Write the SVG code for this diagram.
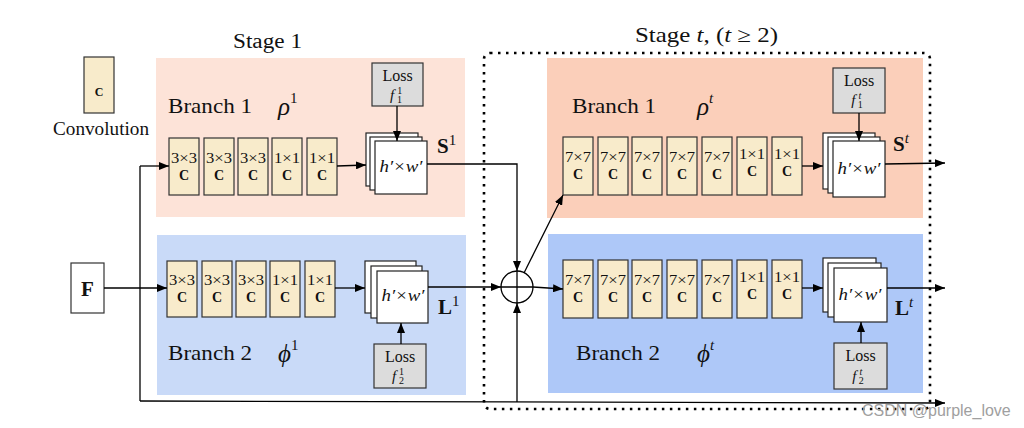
<svg xmlns="http://www.w3.org/2000/svg" width="1024" height="428" viewBox="0 0 1024 428">
<defs>
<marker id="ah" viewBox="0 0 10 8" refX="10" refY="4" markerWidth="10" markerHeight="8" markerUnits="userSpaceOnUse" orient="auto">
<path d="M0,0 L10,4 L0,8 z" fill="#000"/>
</marker>
<style>
text{font-family:"Liberation Serif","DejaVu Serif",serif;fill:#111}
.conv rect{fill:#F8EBCB;stroke:#333;stroke-width:1.2}
.conv .k{font-size:14px;text-anchor:middle}
.conv .c{font-size:14px;font-weight:bold;text-anchor:middle}
.page{fill:#fff;stroke:#222;stroke-width:1.2}
.loss rect{fill:#DCDCDC;stroke:#333;stroke-width:1.2}
.loss text{text-anchor:middle}
.loss .lt{font-size:16px}
.loss .ft{font-size:15px}
.loss .s{font-size:10px}
.hw{font-size:16px;font-style:italic;text-anchor:middle}
.br{font-size:22px}
.gr{font-size:25px;font-style:italic}
.sup{font-size:15px}
.bold{font-size:21px;font-weight:bold}
.ln{fill:none;stroke:#000;stroke-width:1.3}
.ar{fill:none;stroke:#000;stroke-width:1.3;marker-end:url(#ah)}
</style>
</defs>
<rect width="1024" height="428" fill="#fff"/>

<!-- backgrounds -->
<g id="stage1-branch1-bg"><rect x="156" y="58" width="309" height="159" fill="#FDE3D8"/></g>
<g id="stage1-branch2-bg"><rect x="157" y="235" width="309" height="160" fill="#C9DAF8"/></g>
<g id="staget-branch1-bg"><rect x="547" y="58" width="376" height="160" fill="#FBCFBA"/></g>
<g id="staget-branch2-bg"><rect x="548" y="234" width="375" height="159" fill="#AEC8F8"/></g>

<g id="stage-t-frame"><rect x="484" y="53" width="446" height="356" rx="6" fill="none" stroke="#000" stroke-width="2.6" stroke-dasharray="2.5 5.5"/></g>

<!-- titles -->
<text x="233" y="48" font-size="20" textLength="69" lengthAdjust="spacingAndGlyphs">Stage 1</text>
<text x="635" y="42" font-size="21" textLength="143" lengthAdjust="spacingAndGlyphs">Stage <tspan font-style="italic">t</tspan>, (<tspan font-style="italic">t</tspan> ≥ 2)</text>

<!-- legend -->
<g id="legend" class="conv">
<rect x="84" y="57" width="30" height="56"/>
<text class="c" x="99" y="96" style="font-size:12px">C</text>
<text x="53" y="135" font-size="18" textLength="96" lengthAdjust="spacingAndGlyphs">Convolution</text>
</g>

<g id="F"><rect x="71" y="263" width="33" height="50" fill="#fff" stroke="#333" stroke-width="1.2"/><text x="87.5" y="296" font-size="21" font-weight="bold" text-anchor="middle">F</text></g>

<!-- Stage 1 branch 1 -->
<text class="br" x="168" y="113" textLength="84" lengthAdjust="spacingAndGlyphs">Branch 1</text>
<text x="278" y="115"><tspan class="gr">ρ</tspan><tspan class="sup" dy="-12">1</tspan></text>
<g id="s1b1c1" class="conv"><rect x="169" y="138" width="30" height="57"/><text class="k" x="184" y="163" textLength="26" lengthAdjust="spacingAndGlyphs">3×3</text><text class="c" x="184" y="180">C</text></g>
<g id="s1b1c2" class="conv"><rect x="204" y="138" width="30" height="57"/><text class="k" x="219" y="163" textLength="26" lengthAdjust="spacingAndGlyphs">3×3</text><text class="c" x="219" y="180">C</text></g>
<g id="s1b1c3" class="conv"><rect x="238" y="138" width="30" height="57"/><text class="k" x="253" y="163" textLength="26" lengthAdjust="spacingAndGlyphs">3×3</text><text class="c" x="253" y="180">C</text></g>
<g id="s1b1c4" class="conv"><rect x="272" y="138" width="30" height="57"/><text class="k" x="287" y="163" textLength="26" lengthAdjust="spacingAndGlyphs">1×1</text><text class="c" x="287" y="180">C</text></g>
<g id="s1b1c5" class="conv"><rect x="307" y="138" width="30" height="57"/><text class="k" x="322" y="163" textLength="26" lengthAdjust="spacingAndGlyphs">1×1</text><text class="c" x="322" y="180">C</text></g>
<g id="s1b1map"><rect class="page" x="366" y="133" width="52" height="53"/><rect class="page" x="370" y="137" width="52" height="53"/><rect class="page" x="375" y="141" width="52" height="53"/><text class="hw" x="401" y="172" textLength="43" lengthAdjust="spacingAndGlyphs">h′×w′</text></g>
<g id="s1loss1" class="loss"><rect x="372" y="63" width="51" height="43"/><text class="lt" x="397.5" y="81">Loss</text><text class="ft" x="396" y="100"><tspan font-style="italic">f</tspan><tspan class="s" dx="3" dy="-6">1</tspan><tspan class="s" dx="-5" dy="9">1</tspan></text></g>
<text x="437" y="153"><tspan class="bold">S</tspan><tspan class="sup" dy="-8">1</tspan></text>

<!-- Stage 1 branch 2 -->
<text class="br" x="168" y="360" textLength="84" lengthAdjust="spacingAndGlyphs">Branch 2</text>
<text x="278" y="362"><tspan class="gr">ϕ</tspan><tspan class="sup" dy="-12">1</tspan></text>
<g id="s1b2c1" class="conv"><rect x="167" y="261" width="30" height="56"/><text class="k" x="182" y="285" textLength="26" lengthAdjust="spacingAndGlyphs">3×3</text><text class="c" x="182" y="302">C</text></g>
<g id="s1b2c2" class="conv"><rect x="202" y="261" width="30" height="56"/><text class="k" x="217" y="285" textLength="26" lengthAdjust="spacingAndGlyphs">3×3</text><text class="c" x="217" y="302">C</text></g>
<g id="s1b2c3" class="conv"><rect x="236" y="261" width="30" height="56"/><text class="k" x="251" y="285" textLength="26" lengthAdjust="spacingAndGlyphs">3×3</text><text class="c" x="251" y="302">C</text></g>
<g id="s1b2c4" class="conv"><rect x="270" y="261" width="30" height="56"/><text class="k" x="285" y="285" textLength="26" lengthAdjust="spacingAndGlyphs">1×1</text><text class="c" x="285" y="302">C</text></g>
<g id="s1b2c5" class="conv"><rect x="305" y="261" width="30" height="56"/><text class="k" x="320" y="285" textLength="26" lengthAdjust="spacingAndGlyphs">1×1</text><text class="c" x="320" y="302">C</text></g>
<g id="s1b2map"><rect class="page" x="365" y="261" width="51" height="52"/><rect class="page" x="371" y="266" width="51" height="52"/><rect class="page" x="377" y="271" width="51" height="52"/><text class="hw" x="403" y="301" textLength="43" lengthAdjust="spacingAndGlyphs">h′×w′</text></g>
<g id="s1loss2" class="loss"><rect x="374" y="344" width="52" height="44"/><text class="lt" x="400" y="362">Loss</text><text class="ft" x="398" y="381"><tspan font-style="italic">f</tspan><tspan class="s" dx="3" dy="-6">1</tspan><tspan class="s" dx="-5" dy="9">2</tspan></text></g>
<text x="438" y="314"><tspan class="bold">L</tspan><tspan class="sup" dy="-8">1</tspan></text>

<!-- Stage t branch 1 -->
<text class="br" x="572" y="113" textLength="84" lengthAdjust="spacingAndGlyphs">Branch 1</text>
<text x="697" y="115"><tspan class="gr">ρ</tspan><tspan class="sup" dy="-12" font-style="italic">t</tspan></text>
<g id="stb1c1" class="conv"><rect x="563" y="137" width="30" height="58"/><text class="k" x="578" y="162" textLength="26" lengthAdjust="spacingAndGlyphs">7×7</text><text class="c" x="578" y="179">C</text></g>
<g id="stb1c2" class="conv"><rect x="598" y="137" width="30" height="58"/><text class="k" x="613" y="162" textLength="26" lengthAdjust="spacingAndGlyphs">7×7</text><text class="c" x="613" y="179">C</text></g>
<g id="stb1c3" class="conv"><rect x="632" y="137" width="30" height="58"/><text class="k" x="647" y="162" textLength="26" lengthAdjust="spacingAndGlyphs">7×7</text><text class="c" x="647" y="179">C</text></g>
<g id="stb1c4" class="conv"><rect x="667" y="137" width="30" height="58"/><text class="k" x="682" y="162" textLength="26" lengthAdjust="spacingAndGlyphs">7×7</text><text class="c" x="682" y="179">C</text></g>
<g id="stb1c5" class="conv"><rect x="702" y="137" width="30" height="58"/><text class="k" x="717" y="162" textLength="26" lengthAdjust="spacingAndGlyphs">7×7</text><text class="c" x="717" y="179">C</text></g>
<g id="stb1c6" class="conv"><rect x="737" y="137" width="30" height="58"/><text class="k" x="752" y="159" textLength="26" lengthAdjust="spacingAndGlyphs">1×1</text><text class="c" x="752" y="176">C</text></g>
<g id="stb1c7" class="conv"><rect x="772" y="137" width="30" height="58"/><text class="k" x="787" y="159" textLength="26" lengthAdjust="spacingAndGlyphs">1×1</text><text class="c" x="787" y="176">C</text></g>
<g id="stb1map"><rect class="page" x="823" y="133" width="52" height="56"/><rect class="page" x="828" y="137" width="52" height="56"/><rect class="page" x="833" y="141" width="52" height="56"/><text class="hw" x="859" y="174" textLength="43" lengthAdjust="spacingAndGlyphs">h′×w′</text></g>
<g id="stloss1" class="loss"><rect x="833" y="68" width="52" height="45"/><text class="lt" x="859" y="86">Loss</text><text class="ft" x="857" y="105"><tspan font-style="italic">f</tspan><tspan class="s" dx="3" dy="-6" font-style="italic">t</tspan><tspan class="s" dx="-3.5" dy="9">1</tspan></text></g>
<text x="893" y="151"><tspan class="bold">S</tspan><tspan class="sup" dy="-8" font-style="italic">t</tspan></text>

<!-- Stage t branch 2 -->
<text class="br" x="576" y="360" textLength="84" lengthAdjust="spacingAndGlyphs">Branch 2</text>
<text x="697" y="362"><tspan class="gr">ϕ</tspan><tspan class="sup" dy="-12" font-style="italic">t</tspan></text>
<g id="stb2c1" class="conv"><rect x="563" y="260" width="30" height="58"/><text class="k" x="578" y="285" textLength="26" lengthAdjust="spacingAndGlyphs">7×7</text><text class="c" x="578" y="302">C</text></g>
<g id="stb2c2" class="conv"><rect x="598" y="260" width="30" height="58"/><text class="k" x="613" y="285" textLength="26" lengthAdjust="spacingAndGlyphs">7×7</text><text class="c" x="613" y="302">C</text></g>
<g id="stb2c3" class="conv"><rect x="632" y="260" width="30" height="58"/><text class="k" x="647" y="285" textLength="26" lengthAdjust="spacingAndGlyphs">7×7</text><text class="c" x="647" y="302">C</text></g>
<g id="stb2c4" class="conv"><rect x="667" y="260" width="30" height="58"/><text class="k" x="682" y="285" textLength="26" lengthAdjust="spacingAndGlyphs">7×7</text><text class="c" x="682" y="302">C</text></g>
<g id="stb2c5" class="conv"><rect x="702" y="260" width="30" height="58"/><text class="k" x="717" y="285" textLength="26" lengthAdjust="spacingAndGlyphs">7×7</text><text class="c" x="717" y="302">C</text></g>
<g id="stb2c6" class="conv"><rect x="737" y="260" width="30" height="58"/><text class="k" x="752" y="282" textLength="26" lengthAdjust="spacingAndGlyphs">1×1</text><text class="c" x="752" y="299">C</text></g>
<g id="stb2c7" class="conv"><rect x="772" y="260" width="30" height="58"/><text class="k" x="787" y="282" textLength="26" lengthAdjust="spacingAndGlyphs">1×1</text><text class="c" x="787" y="299">C</text></g>
<g id="stb2map"><rect class="page" x="823" y="258" width="53" height="54"/><rect class="page" x="828" y="263" width="53" height="54"/><rect class="page" x="834" y="268" width="53" height="54"/><text class="hw" x="860" y="300" textLength="43" lengthAdjust="spacingAndGlyphs">h′×w′</text></g>
<g id="stloss2" class="loss"><rect x="834" y="343" width="53" height="46"/><text class="lt" x="860.5" y="361">Loss</text><text class="ft" x="858" y="381"><tspan font-style="italic">f</tspan><tspan class="s" dx="3" dy="-6" font-style="italic">t</tspan><tspan class="s" dx="-3.5" dy="9">2</tspan></text></g>
<text x="895" y="315"><tspan class="bold">L</tspan><tspan class="sup" dy="-8" font-style="italic">t</tspan></text>

<!-- sum node -->
<g id="sum"><circle cx="517" cy="287" r="16" fill="#fff" stroke="#000" stroke-width="1.3"/><path d="M501,287 H533 M517,271 V303" stroke="#000" stroke-width="1.3"/></g>

<!-- connectors -->
<g id="connectors">
<path class="ar" d="M104,288 H167"/>
<path class="ln" d="M140,166 V401"/>
<path class="ar" d="M140,166 H169"/>
<path class="ar" d="M140,401 L945,403"/>
<path class="ar" d="M337,166 L366,165"/>
<path class="ar" d="M335,288 H365"/>
<path class="ar" d="M397,106 V141"/>
<path class="ar" d="M401,344 V323"/>
<path class="ar" d="M427,164 H517 V271"/>
<path class="ar" d="M428,287 H501"/>
<path class="ar" d="M524,273 L563,195"/>
<path class="ar" d="M533,287 L563,289"/>
<path class="ar" d="M517,402 V303"/>
<path class="ar" d="M802,166 H823"/>
<path class="ar" d="M859,113 V141"/>
<path class="ar" d="M885,164 L945,163"/>
<path class="ar" d="M802,288 H823"/>
<path class="ar" d="M861,343 V322"/>
<path class="ar" d="M887,288 H945"/>
</g>

<text x="862" y="416" style="font-family:'Liberation Sans',Arial,sans-serif;font-size:16px;fill:#a0a0a0">CSDN @purple_love</text>
</svg>
